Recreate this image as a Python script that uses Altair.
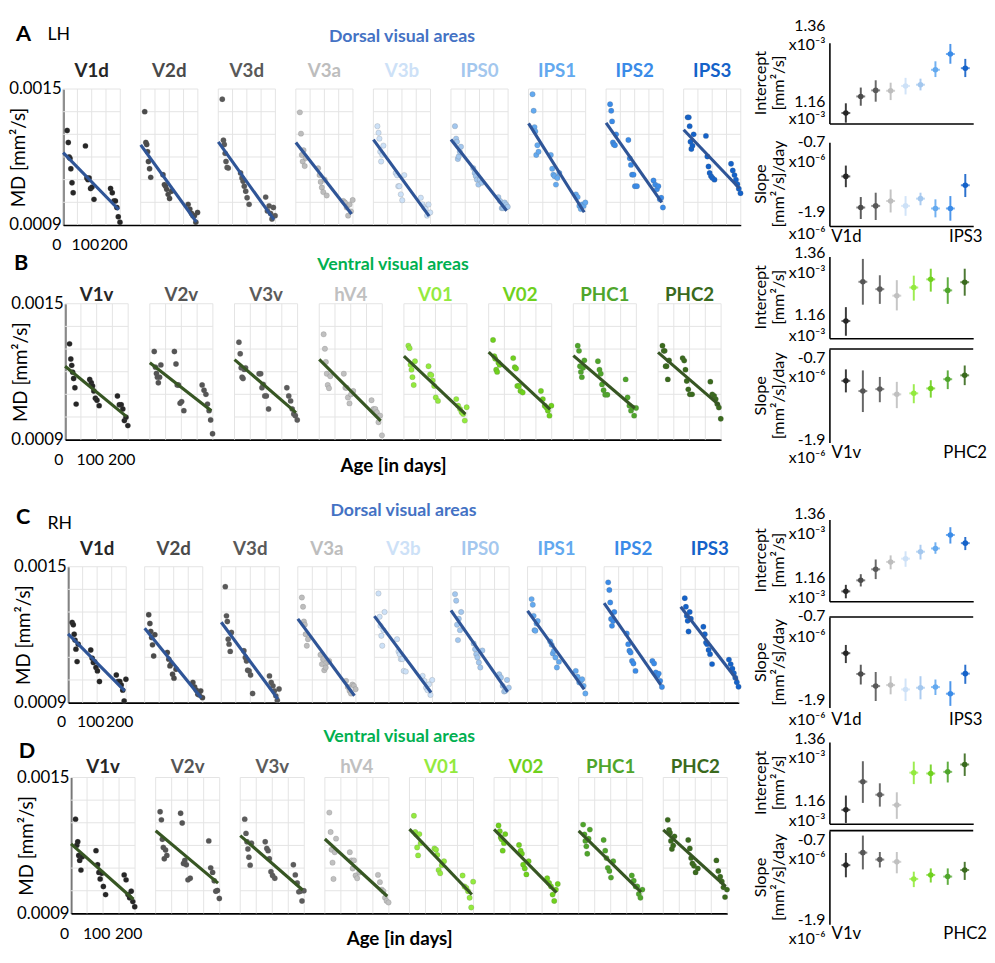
import altair as alt
import pandas as pd

FONT = "Lato"
GRID_COLOR = "#e4e4e4"

# ---------------- shared values ----------------
AGES = [14, 18, 21, 24, 27, 31, 35, 78, 83, 87, 91, 96, 101, 108, 166, 172, 178, 183, 188, 193, 199]
GRID_MD = [1.0, 1.1, 1.2, 1.3, 1.4, 1.5]          # x10^-3 mm2/s
GRID_AGE = [0, 50, 100, 150, 200]

DORSAL = ["V1d", "V2d", "V3d", "V3a", "V3b", "IPS0", "IPS1", "IPS2", "IPS3"]
VENTRAL = ["V1v", "V2v", "V3v", "hV4", "V01", "V02", "PHC1", "PHC2"]
DORSAL_COLORS = ["#262626", "#4a4a4a", "#595959", "#bdbdbd", "#cde1f7", "#a3c7ee", "#63a9ef", "#3a8be8", "#1462c9"]
VENTRAL_COLORS = ["#262626", "#555555", "#5c5c5c", "#c0c0c0", "#93ea3e", "#6fd11d", "#4fa52b", "#3a6a1d"]
DORSAL_LINE = "#2f5597"
VENTRAL_LINE = "#375623"
SECTION_BLUE = "#4472c4"
SECTION_GREEN = "#00b050"

INT_TICKS = ["1.36", "x10⁻³", "1.16", "x10⁻³"]
SLOPE_TICKS = ["-0.7", "x10⁻⁶", "-1.9", "x10⁻⁶"]

# ---------------- MD values (x10^-3 mm2/s), one per subject in AGES ----------------
# A: LH dorsal
A_V1d = [1.317, 1.264, 1.200, 1.194, 1.148, 1.086, 1.042, 1.249, 1.107, 1.100, 1.107, 1.061, 1.067, 1.013, 1.061, 1.042, 1.006, 1.006, 0.977, 0.936, 0.912]
A_V2d = [1.400, 1.264, 1.255, 1.223, 1.180, 1.148, 1.110, 1.122, 1.078, 1.071, 1.057, 1.035, 1.017, 1.049, 0.991, 0.970, 0.951, 0.941, 0.941, 0.912, 0.955]
A_V3d = [1.455, 1.274, 1.255, 1.216, 1.180, 1.154, 1.151, 1.129, 1.107, 1.093, 1.071, 1.049, 1.020, 0.991, 1.023, 0.962, 0.984, 0.951, 0.926, 0.977, 0.941]
A_V3a = [1.397, 1.303, 1.209, 1.180, 1.230, 1.160, 1.195, 1.150, 1.120, 1.090, 1.065, 1.045, 1.100, 1.030, 1.006, 0.999, 0.977, 0.941, 0.990, 0.960, 1.010]
A_V3b = [1.336, 1.307, 1.281, 1.223, 1.180, 1.210, 1.250, 1.129, 1.119, 1.071, 1.071, 1.035, 1.009, 1.120, 1.020, 0.991, 0.977, 0.970, 0.941, 0.990, 0.955]
A_IPS0 = [1.336, 1.281, 1.267, 1.191, 1.202, 1.223, 1.245, 1.151, 1.129, 1.115, 1.100, 1.078, 1.100, 1.086, 1.023, 1.006, 0.974, 0.974, 0.999, 0.990, 0.980]
A_IPS1 = [1.477, 1.404, 1.332, 1.313, 1.209, 1.252, 1.223, 1.209, 1.148, 1.122, 1.115, 1.078, 1.107, 1.129, 1.035, 1.023, 0.984, 0.970, 0.990, 0.984, 0.999]
A_IPS2 = [1.433, 1.404, 1.357, 1.264, 1.255, 1.252, 1.300, 1.275, 1.194, 1.165, 1.122, 1.122, 1.071, 1.071, 1.096, 1.078, 1.057, 1.071, 1.013, 1.020, 0.977]
A_IPS3 = [1.375, 1.375, 1.336, 1.267, 1.235, 1.250, 1.300, 1.293, 1.202, 1.158, 1.129, 1.115, 1.107, 1.100, 1.170, 1.140, 1.120, 1.100, 1.080, 1.060, 1.040]
# B: LH ventral
B_V1v = [1.323, 1.256, 1.228, 1.198, 1.170, 1.129, 1.057, 1.166, 1.151, 1.137, 1.115, 1.083, 1.074, 1.050, 1.093, 1.054, 1.054, 1.035, 0.984, 0.999, 0.962]
B_V2v = [1.289, 1.220, 1.192, 1.176, 1.151, 1.176, 1.230, 1.289, 1.234, 1.141, 1.141, 1.061, 1.068, 1.028, 1.141, 1.118, 1.100, 1.057, 1.028, 0.987, 0.926]
B_V3v = [1.330, 1.279, 1.217, 1.176, 1.170, 1.210, 1.217, 1.191, 1.191, 1.129, 1.144, 1.093, 1.093, 1.035, 1.129, 1.093, 1.071, 1.035, 1.013, 1.006, 0.987]
B_hV4 = [1.365, 1.301, 1.243, 1.191, 1.141, 1.127, 1.180, 1.191, 1.129, 1.129, 1.086, 1.060, 1.100, 1.115, 1.074, 1.035, 1.035, 1.021, 0.977, 1.006, 0.919]
B_V01 = [1.315, 1.304, 1.231, 1.209, 1.176, 1.141, 1.246, 1.224, 1.188, 1.185, 1.161, 1.137, 1.086, 1.071, 1.079, 1.050, 1.035, 1.021, 1.013, 0.984, 1.043]
B_V02 = [1.340, 1.268, 1.257, 1.209, 1.199, 1.240, 1.230, 1.260, 1.220, 1.214, 1.137, 1.137, 1.115, 1.108, 1.115, 1.079, 1.050, 1.042, 1.028, 1.006, 1.050]
B_PHC1 = [1.315, 1.292, 1.224, 1.199, 1.176, 1.217, 1.250, 1.246, 1.209, 1.191, 1.144, 1.118, 1.098, 1.098, 1.166, 1.086, 1.050, 1.028, 1.042, 1.006, 1.040]
B_PHC2 = [1.315, 1.292, 1.292, 1.224, 1.224, 1.166, 1.250, 1.260, 1.249, 1.209, 1.159, 1.122, 1.100, 1.100, 1.156, 1.100, 1.093, 1.079, 1.057, 1.042, 0.992]
# C: RH dorsal
C_V1d = [1.254, 1.244, 1.202, 1.176, 1.136, 1.081, 1.158, 1.132, 1.096, 1.077, 1.081, 1.055, 1.040, 0.993, 1.022, 0.993, 0.993, 0.978, 0.955, 0.907, 1.003]
C_V2d = [1.288, 1.249, 1.214, 1.187, 1.155, 1.106, 1.200, 1.121, 1.092, 1.062, 1.070, 1.025, 1.008, 1.047, 0.989, 0.969, 0.955, 0.937, 0.934, 0.952, 0.922]
C_V3d = [1.412, 1.283, 1.258, 1.180, 1.158, 1.126, 1.210, 1.129, 1.099, 1.084, 1.043, 1.040, 1.022, 0.940, 1.018, 0.989, 0.974, 0.952, 0.930, 0.910, 0.960]
C_V3a = [1.364, 1.323, 1.258, 1.244, 1.202, 1.151, 1.180, 1.111, 1.070, 1.092, 1.043, 1.055, 1.077, 1.084, 0.996, 0.969, 0.952, 0.940, 0.980, 0.974, 0.959]
C_V3b = [1.382, 1.279, 1.239, 1.195, 1.151, 1.220, 1.300, 1.180, 1.126, 1.114, 1.092, 1.092, 1.040, 1.037, 1.018, 0.996, 0.966, 0.955, 0.981, 0.934, 1.000]
C_IPS0 = [1.379, 1.350, 1.244, 1.176, 1.270, 1.220, 1.300, 1.161, 1.136, 1.114, 1.099, 1.077, 1.055, 1.130, 1.025, 1.011, 0.974, 0.949, 0.952, 1.000, 0.966]
C_IPS1 = [1.357, 1.332, 1.283, 1.220, 1.217, 1.249, 1.260, 1.170, 1.155, 1.117, 1.129, 1.099, 1.055, 1.080, 1.040, 1.014, 0.989, 0.996, 1.003, 0.974, 0.940]
C_IPS2 = [1.431, 1.397, 1.342, 1.269, 1.239, 1.260, 1.300, 1.205, 1.158, 1.129, 1.121, 1.084, 1.073, 1.040, 1.084, 1.073, 1.033, 1.018, 1.028, 0.996, 0.969]
C_IPS3 = [1.361, 1.323, 1.283, 1.261, 1.214, 1.300, 1.270, 1.235, 1.202, 1.165, 1.158, 1.132, 1.114, 1.070, 1.090, 1.070, 1.050, 1.030, 1.010, 0.990, 0.970]
# D: RH ventral
D_V1v = [1.316, 1.201, 1.216, 1.156, 1.134, 1.091, 1.150, 1.177, 1.115, 1.081, 1.052, 1.077, 1.019, 0.983, 1.070, 1.048, 0.983, 0.969, 0.998, 0.952, 0.929]
D_V2v = [1.349, 1.313, 1.227, 1.191, 1.141, 1.180, 1.156, 1.342, 1.299, 1.120, 1.134, 1.115, 1.048, 1.055, 1.220, 1.101, 1.081, 1.044, 0.998, 1.001, 0.966]
D_V3v = [1.316, 1.253, 1.216, 1.184, 1.148, 1.113, 1.210, 1.216, 1.187, 1.177, 1.141, 1.084, 1.067, 1.055, 1.115, 1.070, 1.034, 0.995, 0.998, 0.955, 1.000]
D_hV4 = [1.345, 1.259, 1.181, 1.124, 1.052, 1.170, 1.230, 1.170, 1.134, 1.098, 1.134, 1.067, 1.055, 1.080, 1.070, 1.038, 1.005, 0.998, 0.969, 0.955, 0.948]
D_V01 = [1.331, 1.259, 1.249, 1.191, 1.156, 1.250, 1.210, 1.187, 1.181, 1.158, 1.091, 1.077, 1.113, 1.130, 1.067, 1.019, 1.012, 0.998, 0.969, 0.926, 1.040]
D_V02 = [1.288, 1.263, 1.235, 1.227, 1.177, 1.210, 1.250, 1.202, 1.177, 1.163, 1.115, 1.098, 1.072, 1.130, 1.055, 1.034, 1.019, 0.983, 0.955, 1.005, 1.030]
D_PHC1 = [1.292, 1.249, 1.220, 1.196, 1.163, 1.230, 1.270, 1.224, 1.177, 1.144, 1.101, 1.087, 1.058, 1.130, 1.067, 1.044, 1.019, 1.019, 0.986, 0.969, 1.005]
D_PHC2 = [1.313, 1.268, 1.256, 1.220, 1.184, 1.200, 1.240, 1.224, 1.187, 1.144, 1.120, 1.110, 1.081, 1.098, 1.134, 1.087, 1.062, 1.041, 1.015, 0.972, 1.005]

# ---------------- intercepts (x10^-3) and slopes (x10^-6 per day) ----------------
INT_A = [1.186, 1.227, 1.242, 1.241, 1.253, 1.256, 1.293, 1.332, 1.297]
INT_A_LO = [1.162, 1.204, 1.214, 1.218, 1.232, 1.242, 1.275, 1.308, 1.275]
INT_A_HI = [1.210, 1.249, 1.267, 1.261, 1.273, 1.271, 1.314, 1.357, 1.320]
SLOPE_A = [-1.190, -1.636, -1.613, -1.543, -1.613, -1.509, -1.650, -1.650, -1.317]
SLOPE_A_LO = [-1.345, -1.801, -1.815, -1.707, -1.755, -1.604, -1.777, -1.825, -1.486]
SLOPE_A_HI = [-1.035, -1.486, -1.424, -1.378, -1.472, -1.424, -1.519, -1.472, -1.156]

INT_B = [1.202, 1.298, 1.280, 1.264, 1.284, 1.304, 1.277, 1.297]
INT_B_LO = [1.166, 1.242, 1.244, 1.228, 1.252, 1.274, 1.244, 1.264]
INT_B_HI = [1.236, 1.354, 1.314, 1.302, 1.313, 1.330, 1.309, 1.330]
SLOPE_B = [-1.108, -1.239, -1.214, -1.281, -1.268, -1.205, -1.087, -1.037]
SLOPE_B_LO = [-1.256, -1.508, -1.382, -1.458, -1.395, -1.323, -1.214, -1.163]
SLOPE_B_HI = [-0.961, -0.974, -1.058, -1.121, -1.151, -1.100, -0.974, -0.911]

INT_C = [1.184, 1.211, 1.238, 1.256, 1.264, 1.281, 1.289, 1.322, 1.302]
INT_C_LO = [1.167, 1.196, 1.214, 1.238, 1.244, 1.262, 1.276, 1.301, 1.285]
INT_C_HI = [1.200, 1.226, 1.262, 1.272, 1.282, 1.298, 1.304, 1.341, 1.317]
SLOPE_C = [-1.180, -1.455, -1.616, -1.603, -1.660, -1.638, -1.629, -1.717, -1.451]
SLOPE_C_LO = [-1.311, -1.595, -1.813, -1.725, -1.813, -1.791, -1.734, -1.878, -1.586]
SLOPE_C_HI = [-1.071, -1.333, -1.429, -1.485, -1.516, -1.485, -1.529, -1.551, -1.333]

INT_D = [1.194, 1.263, 1.231, 1.206, 1.285, 1.283, 1.287, 1.305]
INT_D_LO = [1.162, 1.211, 1.202, 1.172, 1.257, 1.258, 1.261, 1.277]
INT_D_HI = [1.229, 1.313, 1.259, 1.237, 1.312, 1.305, 1.312, 1.332]
SLOPE_D = [-1.142, -0.982, -1.071, -1.100, -1.319, -1.268, -1.289, -1.205]
SLOPE_D_LO = [-1.298, -1.197, -1.172, -1.247, -1.424, -1.365, -1.395, -1.332]
SLOPE_D_HI = [-0.986, -0.763, -0.974, -0.974, -1.226, -1.184, -1.184, -1.100]


def spacer(h, w=1):
    return alt.Chart(pd.DataFrame({"s": [0]})).mark_point(opacity=0).encode(
        x=alt.X("s:Q", axis=None), y=alt.Y("s:Q", axis=None)
    ).properties(width=w, height=h)


def row_geometry(n, pitch, w200, lead):
    P = pitch * 200.0 / w200                      # panel pitch in days
    W = lead + (n - 1) * pitch + w200             # row width in px
    dmax = (n - 1) * P + 200
    return P, W, dmax


def title_strip(names, colors, pitch, w200, lead, h=16):
    n = len(names)
    P, W, dmax = row_geometry(n, pitch, w200, lead)
    xs = alt.Scale(domain=[0, dmax], range=[lead, W], nice=False, zero=False)
    df = pd.DataFrame({"xp": [i * P + 100 for i in range(n)], "y": [0.5] * n,
                       "t": names, "c": colors})
    return alt.Chart(df).mark_text(fontSize=19, fontWeight="bold", baseline="middle").encode(
        x=alt.X("xp:Q", scale=xs, axis=None),
        y=alt.Y("y:Q", scale=alt.Scale(domain=[0, 1]), axis=None),
        text="t:N", color=alt.Color("c:N", scale=None)
    ).properties(width=W, height=h)


def scatter_row(names, mds, colors, line_color, pitch, w200, lead, height, lab_pad,
                sec_text, sec_color, sec_dy, heads, age_title=False):
    n = len(names)
    P, W, dmax = row_geometry(n, pitch, w200, lead)
    xs = alt.Scale(domain=[0, dmax], range=[lead, W], nice=False, zero=False)
    ys = alt.Scale(domain=[0.0009, 0.0015], nice=False, zero=False)
    xaxis = alt.Axis(values=[0, 100, 200], grid=False, ticks=False, domain=True, domainColor="#000",
                     domainWidth=1.6, labelFontSize=16, labelColor="#000", labelOffset=-7,
                     labelPadding=lab_pad, labelFlush=False, labelOverlap=False,
                     title="Age [in days]" if age_title else None, titleFontSize=19,
                     titleFontWeight="bold", titleColor="#000", titleX=(lead + W) / 2, titleY=26,
                     titleBaseline="middle", titleAlign="center")
    yaxis = alt.Axis(values=[0.0009, 0.0015], format=".4f", grid=False, ticks=False, domain=True,
                     domainColor="#000", domainWidth=1.6, labelFontSize=17, labelColor="#000",
                     labelPadding=2, labelBaseline="middle", labelOverlap=False, offset=-lead,
                     title="MD [mm²/s]", titleFontSize=19, titleFontWeight="normal", titleColor="#000",
                     titleX=-45, titleY=height / 2, titleAlign="center", titleBaseline="middle",
                     titleAngle=270)
    X = alt.X("xp:Q", scale=xs, axis=xaxis)
    Y = alt.Y("md:Q", scale=ys, axis=yaxis)
    COL = alt.Color("c:N", scale=None)

    pts_rows, vg_rows, hg_rows = [], [], []
    for i, (nm, md, col) in enumerate(zip(names, mds, colors)):
        off = i * P
        for a, v in zip(AGES, md):
            pts_rows.append({"panel": nm, "c": col, "off": off, "age": a, "md": v / 1000, "xp": off + a})
        for g in GRID_AGE:
            vg_rows.append({"xp": off + g, "md": 0.0009, "md2": 0.0015})
        for gy in GRID_MD:
            hg_rows.append({"xp": off, "xp2": off + 200, "md": gy / 1000})
    pts_df = pd.DataFrame(pts_rows)

    vg = alt.Chart(pd.DataFrame(vg_rows)).mark_rule(color=GRID_COLOR, strokeWidth=1).encode(
        x=X, y=Y, y2="md2:Q")
    hg = alt.Chart(pd.DataFrame(hg_rows)).mark_rule(color=GRID_COLOR, strokeWidth=1).encode(
        x=X, x2="xp2:Q", y=Y)
    pts = alt.Chart(pts_df).mark_circle(size=30, opacity=1, stroke="#666666", strokeWidth=0.4,
                                        strokeOpacity=0.5).encode(x=X, y=Y, color=COL)
    reg = alt.Chart(pts_df).transform_regression(
        "age", "md", groupby=["panel", "off"], extent=[0, 195]
    ).transform_calculate(xp="datum.off + datum.age").mark_line(
        color=line_color, strokeWidth=3.2).encode(x=X, y=Y, detail="panel:N")
    sec = alt.Chart(pd.DataFrame({"xp": [dmax / 2], "md": [0.0015], "t": [sec_text]})).mark_text(
        fontSize=18, fontWeight="bold", baseline="middle", color=sec_color, dy=-sec_dy).encode(
        x=X, y=Y, text="t:N")
    layers = [vg, hg, pts, reg, sec]
    for txt, size, weight, dx, dy in heads:
        layers.append(alt.Chart(pd.DataFrame({"xp": [0], "md": [0.0015], "t": [txt]})).mark_text(
            fontSize=size, fontWeight=weight, align="left", baseline="middle", color="#000",
            dx=dx, dy=-dy).encode(x=X, y=Y, text="t:N"))
    return alt.layer(*layers).properties(width=W, height=height)


def right_panel(vals, lo, hi, colors, names, height, kind, top_line, show_labels, bottom_line,
                tick_px, lab_pad=3):
    n = len(vals)
    width = 146
    df = pd.DataFrame({"idx": list(range(n)), "v": vals, "lo": lo, "hi": hi, "c": colors})
    xdom = [-1.1, 8.53] if n == 9 else [-0.97, 7.5]
    xspan = xdom[1] - xdom[0]
    xs = alt.Scale(domain=xdom, nice=False, zero=False)
    if kind == "int":
        ydom = [1.16, 1.36]
        texts = INT_TICKS
        titles = ["Intercept", "[mm²/s]"]
    else:
        ydom = [-1.9, -0.7]
        texts = SLOPE_TICKS
        titles = ["Slope", "[mm²/s]/day"]
    yspan = ydom[1] - ydom[0]
    ys = alt.Scale(domain=ydom, nice=False, zero=False)
    yaxis = alt.Axis(labels=False, ticks=False, grid=False, domain=True, domainColor="#000",
                     domainWidth=1.6, title=None)
    if show_labels:
        xaxis = alt.Axis(values=[0, n - 1],
                         labelExpr=f"datum.value == 0 ? '{names[0]}' : '{names[-1]}'",
                         ticks=False, grid=False, domain=bottom_line, domainColor="#000",
                         domainWidth=1.6, labelFontSize=17, labelColor="#000", labelPadding=lab_pad,
                         labelFlush=False, labelOverlap=False, title=None)
    else:
        xaxis = alt.Axis(labels=False, ticks=False, grid=False, domain=True, domainColor="#000",
                         domainWidth=1.6, title=None)
    X = alt.X("idx:Q", scale=xs, axis=xaxis)
    Yv = alt.Y("v:Q", scale=ys, axis=yaxis)
    C = alt.Color("c:N", scale=None)
    base = alt.Chart(df)
    rules = base.mark_rule(strokeWidth=2, opacity=0.9).encode(
        x=X, y=alt.Y("lo:Q", scale=ys, axis=yaxis), y2="hi:Q", color=C)
    ticks = base.mark_tick(orient="horizontal", size=9, thickness=2).encode(x=X, y=Yv, color=C)
    dots = base.mark_circle(size=32, opacity=1).encode(x=X, y=Yv, color=C)
    layers = [rules, ticks, dots]
    if top_line:
        tdf = pd.DataFrame({"idx": [xdom[0]], "idx2": [xdom[1]], "v": [ydom[1]]})
        layers.append(alt.Chart(tdf).mark_rule(color="#000", strokeWidth=1.6).encode(
            x=X, x2="idx2:Q", y=Yv))
    # value-axis tick labels: two lines per end (value, then power of ten)
    upp = yspan / height
    lab_v = [ydom[1] - tick_px[0] * upp, ydom[1] - tick_px[1] * upp,
             ydom[0] - tick_px[2] * upp, ydom[0] - tick_px[3] * upp]
    ldf = pd.DataFrame({"idx": [xdom[0]] * 4, "v": lab_v, "t": texts})
    layers.append(alt.Chart(ldf).mark_text(fontSize=16, align="right", baseline="middle",
                                           color="#000", dx=-4).encode(x=X, y=Yv, text="t:N"))
    # axis title: two rotated lines
    xpp = xspan / width
    tdf2 = pd.DataFrame({"idx": [xdom[0] - 69 * xpp, xdom[0] - 51 * xpp],
                         "v": [ydom[0] + yspan / 2] * 2, "t": titles})
    layers.append(alt.Chart(tdf2).mark_text(fontSize=16.5, align="center", baseline="middle",
                                            angle=270, color="#000").encode(x=X, y=Yv, text="t:N"))
    return alt.layer(*layers).properties(width=width, height=height)


# ---------------- left block (scatter rows) ----------------
GEO_A = (78.75, 58, 0)
GEO_B = (86, 64, 2)
GEO_C = (77.75, 59, 5)
GEO_D = (85.9, 65, 8)

rowA = scatter_row(DORSAL, [A_V1d, A_V2d, A_V3d, A_V3a, A_V3b, A_IPS0, A_IPS1, A_IPS2, A_IPS3],
                   DORSAL_COLORS, DORSAL_LINE, *GEO_A, 138, 12,
                   "Dorsal visual areas", SECTION_BLUE, 53,
                   [("A", 22, "bold", -48, 56), ("LH", 18, "normal", -16, 55)])
rowB = scatter_row(VENTRAL, [B_V1v, B_V2v, B_V3v, B_hV4, B_V01, B_V02, B_PHC1, B_PHC2],
                   VENTRAL_COLORS, VENTRAL_LINE, *GEO_B, 138, 12,
                   "Ventral visual areas", SECTION_GREEN, 39,
                   [("B", 22, "bold", -52, 41)], age_title=True)
rowC = scatter_row(DORSAL, [C_V1d, C_V2d, C_V3d, C_V3a, C_V3b, C_IPS0, C_IPS1, C_IPS2, C_IPS3],
                   DORSAL_COLORS, DORSAL_LINE, *GEO_C, 138, 11,
                   "Dorsal visual areas", SECTION_BLUE, 56,
                   [("C", 22, "bold", -53, 50), ("RH", 18, "normal", -21, 43)])
rowD = scatter_row(VENTRAL, [D_V1v, D_V2v, D_V3v, D_hV4, D_V01, D_V02, D_PHC1, D_PHC2],
                   VENTRAL_COLORS, VENTRAL_LINE, *GEO_D, 138, 12,
                   "Ventral visual areas", SECTION_GREEN, 41,
                   [("D", 22, "bold", -53, 27)], age_title=True)

LEFT = alt.vconcat(
    spacer(47), title_strip(DORSAL, DORSAL_COLORS, *GEO_A), spacer(10), rowA,
    spacer(63), title_strip(VENTRAL, VENTRAL_COLORS, *GEO_B), spacer(1), rowB,
    spacer(103), title_strip(DORSAL, DORSAL_COLORS, *GEO_C), spacer(10), rowC,
    spacer(57), title_strip(VENTRAL, VENTRAL_COLORS, *GEO_D), spacer(3), rowD,
    spacing=0, bounds="flush")

# ---------------- right block (intercepts / slopes) ----------------
intA = right_panel(INT_A, INT_A_LO, INT_A_HI, DORSAL_COLORS, DORSAL, 82, "int", False, False, True,
                   (-17, 2, -22, -4))
slA = right_panel(SLOPE_A, SLOPE_A_LO, SLOPE_A_HI, DORSAL_COLORS, DORSAL, 85, "slope", False, True, True,
                  (0, 20, -14, 8), 3)
intB = right_panel(INT_B, INT_B_LO, INT_B_HI, VENTRAL_COLORS, VENTRAL, 83, "int", False, False, True,
                   (-3, 17, -23, -2))
slB = right_panel(SLOPE_B, SLOPE_B_LO, SLOPE_B_HI, VENTRAL_COLORS, VENTRAL, 95, "slope", True, True, False,
                  (9, 28, -3, 16), 2)
intC = right_panel(INT_C, INT_C_LO, INT_C_HI, DORSAL_COLORS, DORSAL, 83, "int", False, False, True,
                   (-5, 15, -23, -3))
slC = right_panel(SLOPE_C, SLOPE_C_LO, SLOPE_C_HI, DORSAL_COLORS, DORSAL, 92, "slope", True, True, False,
                  (-1, 20, -8, 13), 4)
intD = right_panel(INT_D, INT_D_LO, INT_D_HI, VENTRAL_COLORS, VENTRAL, 83, "int", False, False, True,
                   (-3, 16, -23, -3))
slD = right_panel(SLOPE_D, SLOPE_D_LO, SLOPE_D_HI, VENTRAL_COLORS, VENTRAL, 95, "slope", True, True, False,
                  (10, 29, -4, 15), 1)

RIGHT = alt.vconcat(spacer(26), intA, spacer(19), slA, spacer(31), intB, spacer(11), slB,
                    spacer(78), intC, spacer(16), slC, spacer(35), intD, spacer(7), slD,
                    spacing=0, bounds="flush")

chart = alt.hconcat(LEFT, RIGHT, spacing=8).properties(
    padding={"left": 0, "top": 2, "right": 0, "bottom": 0}
).configure(font=FONT).configure_view(stroke=None)

chart.save("out.html", embed_options={"renderer": "svg", "actions": False})
